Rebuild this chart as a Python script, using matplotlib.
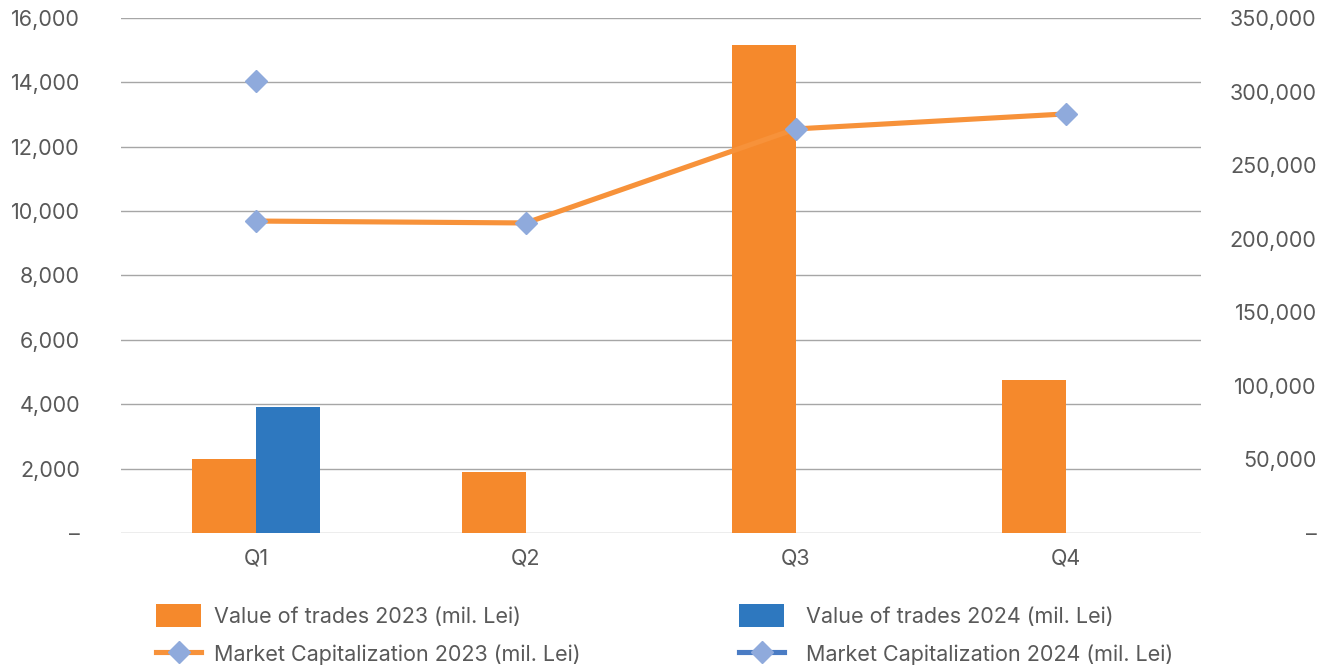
import matplotlib.pyplot as plt
import numpy as np
from matplotlib.ticker import FuncFormatter

plt.rcParams['font.family'] = ['Inter', 'DejaVu Sans']

quarters = ['Q1', 'Q2', 'Q3', 'Q4']
trades_2023 = [2300, 1900, 15160, 4750]
trades_2024 = [3910, np.nan, np.nan, np.nan]
mcap_2023 = [212000, 210700, 274600, 284800]
mcap_2024 = [307200, np.nan, np.nan, np.nan]

orange = '#F5892C'
blue = '#2E78BF'
diamond = '#8FAADC'
grey_txt = '#595959'
fs = 15.5

fig = plt.figure(figsize=(13.34, 6.66), dpi=100)
ax = fig.add_axes([0.0907, 0.1997, 0.8093, 0.7733])
ax2 = ax.twinx()

x = np.arange(len(quarters))
w = 0.237
b1 = ax.bar(x - w / 2, trades_2023, w, color=orange, label='Value of trades 2023 (mil. Lei)')
b2 = ax.bar(x + w / 2, trades_2024, w, color=blue, label='Value of trades 2024 (mil. Lei)')

l1, = ax2.plot(x, mcap_2023, color='#F7923A', lw=3.7, marker='D', ms=11,
               mfc=diamond, mec=diamond,
               label='Market Capitalization 2023 (mil. Lei)')
l2, = ax2.plot(x, mcap_2024, color='#4A7CC4', lw=3.7, marker='D', ms=11,
               mfc=diamond, mec=diamond,
               label='Market Capitalization 2024 (mil. Lei)')

ax.set_xlim(-0.5, 3.5)
ax.set_ylim(0, 16000)
ax2.set_ylim(0, 350000)
ax.set_yticks(np.arange(0, 16001, 2000))
ax2.set_yticks(np.arange(0, 350001, 50000))

fmt = FuncFormatter(lambda v, p: '–' if v == 0 else f'{v:,.0f}')
ax.yaxis.set_major_formatter(fmt)
ax2.yaxis.set_major_formatter(fmt)

ax.set_xticks(x)
ax.set_xticklabels(quarters)

ax.grid(axis='y', color='#A6A6A6', lw=1)
ax.set_axisbelow(True)
for a in (ax, ax2):
    for s in a.spines.values():
        s.set_visible(False)
    a.tick_params(length=0, labelsize=fs, labelcolor=grey_txt)
ax.tick_params(axis='y', pad=29.5)
ax2.tick_params(axis='y', pad=83.5)
for lbl in ax2.get_yticklabels():
    lbl.set_horizontalalignment('right')
ax.tick_params(axis='x', pad=11)
ax.set_zorder(ax2.get_zorder() - 1)
ax2.patch.set_visible(False)

# legend: one column per year
leg_kw = dict(loc='upper left', frameon=False, fontsize=fs, labelcolor=grey_txt,
              handlelength=2.1, handleheight=1.25, handletextpad=0.6,
              labelspacing=0.72, borderaxespad=0, borderpad=0)
fig.legend(handles=[b1, l1], bbox_to_anchor=(0.117, 0.093), **leg_kw)
fig.legend(handles=[b2, l2], bbox_to_anchor=(0.554, 0.093),
           **{**leg_kw, 'handletextpad': 1.0})

fig.savefig('out.png', dpi=100)
